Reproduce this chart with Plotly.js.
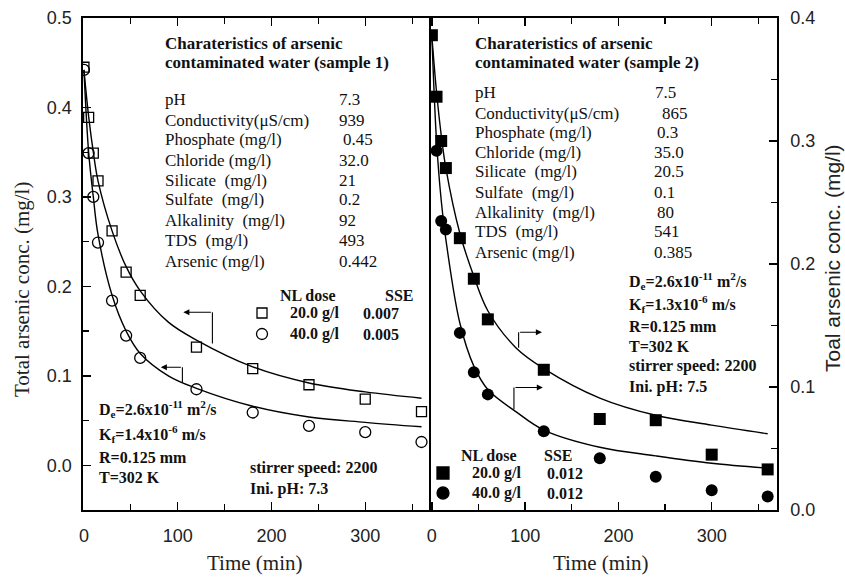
<!DOCTYPE html>
<html>
<head>
<meta charset="utf-8">
<script src="https://cdn.plot.ly/plotly-3.0.1.min.js"></script>
<style>
  html, body { margin: 0; padding: 0; background: #fff; }
  #chart { width: 845px; height: 577px; }
</style>
</head>
<body>
<div id="chart"></div>
<script>
// Sampling times (min)
const timeMin = [0, 5, 10, 15, 30, 45, 60, 120, 180, 240, 300, 360];
const timeMin2Circ = [5, 10, 15, 30, 45, 60, 120, 180, 240, 300, 360];
const fitTime = [0, 5, 10, 15, 30, 45, 60, 90, 120, 180, 240, 300, 360];

// Sample 1 measured total arsenic (mg/l)
const s1Dose20 = [0.445, 0.389, 0.349, 0.318, 0.262, 0.216, 0.190, 0.132, 0.108, 0.090, 0.074, 0.060];
const s1Dose40 = [0.442, 0.349, 0.300, 0.249, 0.184, 0.145, 0.120, 0.085, 0.059, 0.044, 0.037, 0.026];
// Sample 1 model curves
const s1Fit20 = [0.442, 0.390, 0.350, 0.318, 0.262, 0.222, 0.195, 0.160, 0.140, 0.110, 0.092, 0.082, 0.075];
const s1Fit40 = [0.442, 0.350, 0.300, 0.258, 0.190, 0.150, 0.125, 0.100, 0.086, 0.066, 0.054, 0.048, 0.043];

// Sample 2 measured total arsenic (mg/l)
const s2Dose20 = [0.386, 0.336, 0.300, 0.278, 0.221, 0.188, 0.155, 0.114, 0.074, 0.073, 0.045, 0.033];
const s2Dose40 = [0.292, 0.235, 0.228, 0.144, 0.112, 0.094, 0.064, 0.042, 0.027, 0.016, 0.011];
// Sample 2 model curves
const s2Fit20 = [0.385, 0.340, 0.305, 0.278, 0.225, 0.190, 0.162, 0.132, 0.115, 0.091, 0.077, 0.069, 0.062];
const s2Fit40 = [0.385, 0.300, 0.252, 0.220, 0.152, 0.117, 0.098, 0.080, 0.065, 0.051, 0.044, 0.038, 0.034];

// Water characteristics tables
const propLabels = ["pH", "Conductivity(\u03BCS/cm)", "Phosphate (mg/l)", "Chloride (mg/l)",
  "Silicate  (mg/l)", "Sulfate  (mg/l)", "Alkalinity  (mg/l)", "TDS  (mg/l)", "Arsenic (mg/l)"];
const propSample1 = ["7.3", "939", "0.45", "32.0", "21", "0.2", "92", "493", "0.442"];
const propSample2 = ["7.5", "865", "0.3", "35.0", "20.5", "0.1", "80", "541", "0.385"];

const W = 845, H = 577;
const px = v => v / W;
const py = v => 1 - v / H;

const SERIF = "'Liberation Serif', 'Times New Roman', serif";
const SANS = "'Liberation Sans', Arial, sans-serif";
const INK = "#111";

const lineStyle = { color: "#000", width: 1.4, shape: "spline", smoothing: 1 };

const traces = [
  { x: fitTime, y: s1Fit20, mode: "lines", line: lineStyle, xaxis: "x", yaxis: "y", hoverinfo: "skip" },
  { x: fitTime, y: s1Fit40, mode: "lines", line: lineStyle, xaxis: "x", yaxis: "y", hoverinfo: "skip" },
  { x: timeMin, y: s1Dose20, mode: "markers", xaxis: "x", yaxis: "y",
    marker: { symbol: "square-open", size: 10, color: "#000", line: { width: 1.3, color: "#000" } } },
  { x: timeMin, y: s1Dose40, mode: "markers", xaxis: "x", yaxis: "y",
    marker: { symbol: "circle-open", size: 11, color: "#000", line: { width: 1.3, color: "#000" } } },
  { x: fitTime, y: s2Fit20, mode: "lines", line: lineStyle, xaxis: "x2", yaxis: "y2", hoverinfo: "skip" },
  { x: fitTime, y: s2Fit40, mode: "lines", line: lineStyle, xaxis: "x2", yaxis: "y2", hoverinfo: "skip" },
  { x: timeMin, y: s2Dose20, mode: "markers", xaxis: "x2", yaxis: "y2",
    marker: { symbol: "square", size: 12, color: "#000" } },
  { x: timeMin2Circ, y: s2Dose40, mode: "markers", xaxis: "x2", yaxis: "y2",
    marker: { symbol: "circle", size: 12, color: "#000" } }
];

const tickFont = { family: SANS, size: 18, color: "#222" };
const axisCommon = {
  showgrid: false, zeroline: false, showline: true, linecolor: "#000", linewidth: 1.6,
  ticks: "inside", ticklen: 8, tickwidth: 1.4, tickcolor: "#000",
  tickfont: tickFont, fixedrange: true
};

const annotations = [];
function txt(x, y, text, opts) {
  annotations.push(Object.assign({
    xref: "paper", yref: "paper", x: px(x), y: py(y), text: text, showarrow: false,
    xanchor: "left", yanchor: "middle",
    font: { family: SERIF, size: 16, color: INK }
  }, opts || {}));
}
function arrow(xa, ya, xh, yh, xax, yax) {
  annotations.push({
    xref: xax, yref: yax, axref: xax, ayref: yax,
    x: xh, y: yh, ax: xa, ay: ya, text: "", showarrow: true,
    arrowhead: 2, arrowsize: 1.1, arrowwidth: 1.1, arrowcolor: "#000", standoff: 0
  });
}
const headFont = { family: SERIF, size: 17, color: INK };
const rowFont = { family: SERIF, size: 17, color: INK };

// Panel 1 table
txt(163, 43, "<b>Charateristics of arsenic</b>", { font: headFont });
txt(163, 63, "<b>contaminated water (sample 1)</b>", { font: headFont });
const rowY1 = [100, 120, 140, 160, 180, 200, 220, 240, 261];
propLabels.forEach((lab, i) => {
  txt(163, rowY1[i], lab, { font: rowFont });
  txt(i === 2 ? 341 : 337, rowY1[i], propSample1[i], { font: rowFont });
});
// Panel 1 legend
txt(278, 295, "<b>NL dose</b>");
txt(383, 295, "<b>SSE</b>");
txt(288, 313, "<b>20.0 g/l</b>");
txt(361, 313, "<b>0.007</b>");
txt(288, 334, "<b>40.0 g/l</b>");
txt(361, 334, "<b>0.005</b>");
// Panel 1 parameters
txt(97, 409, "<b>D<sub>e</sub>=2.6x10<sup>-11</sup> m<sup>2</sup>/s</b>");
txt(97, 434, "<b>K<sub>f</sub>=1.4x10<sup>-6</sup> m/s</b>");
txt(97, 457, "<b>R=0.125 mm</b>");
txt(97, 477, "<b>T=302 K</b>");
txt(248, 468, "<b>stirrer speed: 2200</b>");
txt(248, 489, "<b>Ini. pH: 7.3</b>");

// Panel 2 table
txt(473, 43, "<b>Charateristics of arsenic</b>", { font: headFont });
txt(473, 63, "<b>contaminated water (sample 2)</b>", { font: headFont });
const rowY2 = [93, 113, 132, 152, 172, 192, 212, 232, 252];
const valX2 = [653, 660, 655, 652, 652, 652, 655, 652, 652];
propLabels.forEach((lab, i) => {
  txt(473, rowY2[i], lab, { font: rowFont });
  txt(valX2[i], rowY2[i], propSample2[i], { font: rowFont });
});
// Panel 2 parameters
txt(627, 281, "<b>D<sub>e</sub>=2.6x10<sup>-11</sup> m<sup>2</sup>/s</b>");
txt(627, 304, "<b>K<sub>f</sub>=1.3x10<sup>-6</sup> m/s</b>");
txt(627, 326, "<b>R=0.125 mm</b>");
txt(627, 346, "<b>T=302 K</b>");
txt(627, 366, "<b>stirrer speed: 2200</b>");
txt(627, 387, "<b>Ini. pH: 7.5</b>");
// Panel 2 legend
txt(459, 455, "<b>NL dose</b>");
txt(542, 455, "<b>SSE</b>");
txt(470, 473, "<b>20.0 g/l</b>");
txt(545, 473, "<b>0.012</b>");
txt(470, 493, "<b>40.0 g/l</b>");
txt(545, 493, "<b>0.012</b>");

// Axis titles
txt(22, 290, "Total arsenic conc. (mg/l)", { xanchor: "center", textangle: -90,
  font: { family: SERIF, size: 21, color: "#222" } });
txt(832, 258, "Toal arsenic conc. (mg/l)", { xanchor: "center", textangle: -90,
  font: { family: SANS, size: 21, color: "#222" } });
txt(254, 563, "Time (min)", { xanchor: "center", font: { family: SERIF, size: 21, color: "#222" } });
txt(600, 563, "Time (min)", { xanchor: "center", font: { family: SERIF, size: 21, color: "#222" } });

// Pointer arrows: vertical stem (shape) + horizontal arrow (annotation)
arrow(137, 0.171, 106, 0.171, "x", "y");
arrow(105, 0.1095, 82, 0.1095, "x", "y");
arrow(93, 0.1445, 118, 0.1445, "x2", "y2");
arrow(88, 0.0996, 119, 0.0996, "x2", "y2");

const shapes = [
  { type: "line", xref: "x", yref: "y", x0: 137, x1: 137, y0: 0.136, y1: 0.171, line: { color: "#000", width: 1.1 } },
  { type: "line", xref: "x", yref: "y", x0: 105, x1: 105, y0: 0.093, y1: 0.1095, line: { color: "#000", width: 1.1 } },
  { type: "line", xref: "x2", yref: "y2", x0: 93, x1: 93, y0: 0.132, y1: 0.1445, line: { color: "#000", width: 1.1 } },
  { type: "line", xref: "x2", yref: "y2", x0: 88, x1: 88, y0: 0.082, y1: 0.0996, line: { color: "#000", width: 1.1 } }
];
// Legend symbols
function sym(type, x, y, size, filled) {
  shapes.push({
    type: type, xref: "paper", yref: "paper", xsizemode: "pixel", ysizemode: "pixel",
    xanchor: px(x), yanchor: py(y), x0: -size / 2, x1: size / 2, y0: -size / 2, y1: size / 2,
    line: { color: "#000", width: 1.3 }, fillcolor: filled ? "#000" : "rgba(0,0,0,0)"
  });
}
sym("rect", 262, 313, 10, false);
sym("circle", 262, 334, 11, false);
sym("rect", 443, 473, 12, true);
sym("circle", 443, 493, 12, true);

const layout = {
  width: W, height: H,
  margin: { l: 0, r: 0, t: 0, b: 0 },
  paper_bgcolor: "#fff", plot_bgcolor: "#fff",
  showlegend: false,
  xaxis: Object.assign({}, axisCommon, {
    domain: [px(83), px(429)], range: [-1, 368], anchor: "y",
    tickmode: "linear", tick0: 0, dtick: 100, mirror: "ticks", ticklabelstandoff: 9,
    minor: { ticks: "inside", dtick: 50, tick0: 0, ticklen: 6, tickwidth: 1.2, tickcolor: "#000" }
  }),
  yaxis: Object.assign({}, axisCommon, {
    domain: [1 - 510 / H, 1 - 18 / H], range: [-0.05, 0.5], anchor: "x",
    tickmode: "linear", tick0: 0, dtick: 0.1, tickformat: ".1f", mirror: true, ticklabelstandoff: 6,
    minor: { ticks: "inside", dtick: 0.05, tick0: 0, ticklen: 6, tickwidth: 1.2, tickcolor: "#000" }
  }),
  xaxis2: Object.assign({}, axisCommon, {
    domain: [px(430), px(777)], range: [-2, 370], anchor: "y2",
    tickmode: "linear", tick0: 0, dtick: 100, mirror: "ticks", ticklabelstandoff: 9,
    minor: { ticks: "inside", dtick: 50, tick0: 0, ticklen: 6, tickwidth: 1.2, tickcolor: "#000" }
  }),
  yaxis2: Object.assign({}, axisCommon, {
    domain: [1 - 510 / H, 1 - 18 / H], range: [0, 0.4], anchor: "x2", side: "right",
    tickmode: "linear", tick0: 0, dtick: 0.1, tickformat: ".1f", mirror: false, ticklabelstandoff: 8,
    minor: { ticks: "inside", dtick: 0.05, tick0: 0, ticklen: 6, tickwidth: 1.2, tickcolor: "#000" }
  }),
  annotations: annotations,
  shapes: shapes
};

Plotly.newPlot("chart", traces, layout, { staticPlot: true, displayModeBar: false });
</script>
</body>
</html>
